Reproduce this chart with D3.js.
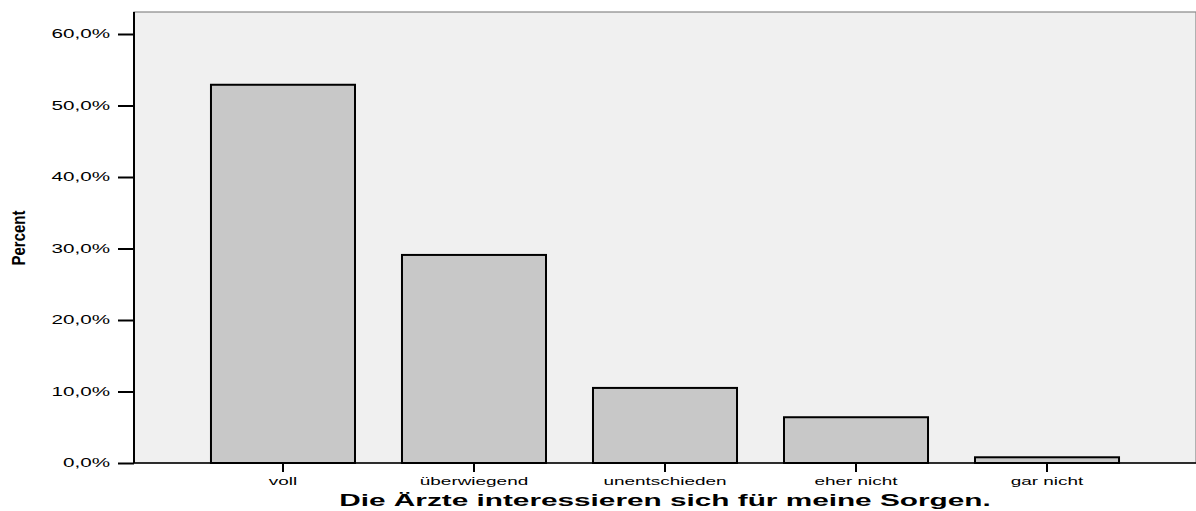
<!DOCTYPE html>
<meta charset="utf-8">
<script src="https://cdn.jsdelivr.net/npm/d3@7"></script>
<style>
  body { margin: 0; background: #fff; }
  text { font-family: "Liberation Sans", Arial, sans-serif; }
</style>
<body>
<script>

// data
var categories = ["voll", "überwiegend", "unentschieden", "eher nicht", "gar nicht"];
var percent = [52.9, 29.1, 10.5, 6.4, 0.8];
var yTicks = [0, 10, 20, 30, 40, 50, 60];
var xTitle = "Die Ärzte interessieren sich für meine Sorgen.";
var yTitle = "Percent";

var width = 1196, height = 511;
// note: "top" is taken by window.top, so use other names
var plotLeft = 134, plotRight = 1196, plotTop = 12, plotBottom = 463;

var svg = d3.select("body").append("svg")
    .attr("width", width)
    .attr("height", height);

var x = d3.scaleBand().domain(categories).range([plotLeft, plotRight])
    .paddingInner(0.246).paddingOuter(0.403);
var y = d3.scaleLinear().domain([0, 60]).range([plotBottom, 34]);

// the reference text is drawn wide, stretch it horizontally
var wide = 1.72;
function stretch(sel, factor) {
  sel.each(function() {
    var w = this.getComputedTextLength();
    d3.select(this).attr("textLength", w * factor).attr("lengthAdjust", "spacingAndGlyphs");
  });
}

// plot background
svg.append("rect")
    .attr("x", plotLeft).attr("y", plotTop)
    .attr("width", plotRight - plotLeft).attr("height", plotBottom - plotTop)
    .attr("fill", "#f0f0f0")
    .attr("stroke", "#888").attr("stroke-width", 1.2);

// bars
svg.selectAll(".bar").data(percent).enter().append("rect")
    .attr("class", "bar")
    .attr("x", function(d, i) { return x(categories[i]); })
    .attr("y", function(d) { return y(d); })
    .attr("width", x.bandwidth())
    .attr("height", function(d) { return y(0) - y(d); })
    .attr("fill", "#c8c8c8")
    .attr("stroke", "#000").attr("stroke-width", 2);

// y axis
var yAxis = svg.append("g")
    .attr("transform", "translate(" + plotLeft + ",0)")
    .call(d3.axisLeft(y).tickValues(yTicks).tickSize(16).tickPadding(8)
      .tickFormat(function(d) { return d.toFixed(1).replace(".", ",") + "%"; }));
yAxis.select(".domain").attr("stroke", "#000").attr("stroke-width", 2)
    .attr("d", "M0," + plotTop + "V" + plotBottom);
yAxis.selectAll(".tick line").attr("stroke", "#000").attr("stroke-width", 2);
yAxis.selectAll(".tick text").attr("fill", "#000")
    .style("font-size", "12px").style("font-family", "'Liberation Sans', Arial, sans-serif")
    .call(stretch, wide);

// x axis
var xAxis = svg.append("g")
    .attr("transform", "translate(0," + plotBottom + ")")
    .call(d3.axisBottom(x).tickSize(9).tickPadding(5));
xAxis.select(".domain").attr("stroke", "#000").attr("stroke-width", 1.5)
    .attr("d", "M" + plotLeft + ",0H" + plotRight);
xAxis.selectAll(".tick line").attr("stroke", "#000").attr("stroke-width", 2);
xAxis.selectAll(".tick text").attr("fill", "#000")
    .style("font-size", "11px").style("font-family", "'Liberation Sans', Arial, sans-serif")
    .call(stretch, wide);

// axis titles
svg.append("text")
    .attr("x", 665).attr("y", 506)
    .attr("text-anchor", "middle")
    .style("font-size", "17px").style("font-weight", "bold")
    .text(xTitle)
    .call(stretch, 1.75);

svg.append("text")
    .attr("transform", "translate(25,238) rotate(-90)")
    .attr("text-anchor", "middle")
    .style("font-family", "'Liberation Sans Narrow', 'Liberation Sans', Arial, sans-serif")
    .style("font-size", "18px").style("font-weight", "bold")
    .text(yTitle)
    .attr("textLength", 55).attr("lengthAdjust", "spacingAndGlyphs");

</script>
</body>
